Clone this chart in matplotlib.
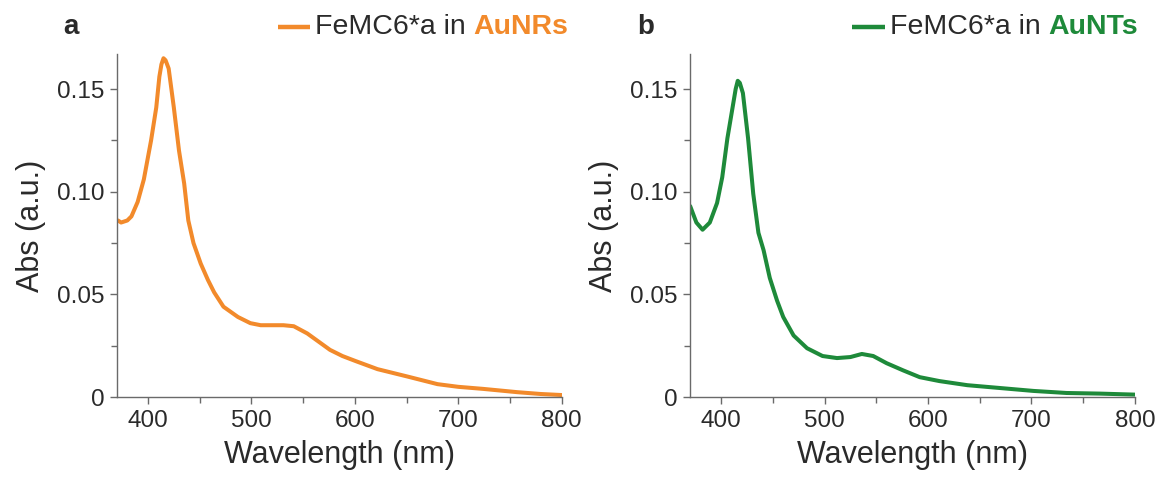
import matplotlib
matplotlib.use('Agg')
import matplotlib.pyplot as plt
from matplotlib.ticker import MultipleLocator

plt.rcParams['font.family'] = ['Liberation Sans', 'DejaVu Sans']

# 数据：吸收光谱
wl_a = [371, 374, 380, 384, 390, 396, 403, 408, 411, 413, 415, 417, 420, 425, 430,
        435, 439, 444, 451, 458, 464, 473, 487, 499, 509, 520, 531, 541, 554, 565,
        576, 588, 601, 622, 651, 680, 700, 724, 757, 780, 800]
abs_a = [0.086, 0.085, 0.086, 0.088, 0.095, 0.106, 0.125, 0.141, 0.156, 0.162, 0.165,
         0.164, 0.160, 0.141, 0.120, 0.104, 0.086, 0.075, 0.065, 0.057, 0.051, 0.044,
         0.039, 0.036, 0.035, 0.035, 0.035, 0.0345, 0.031, 0.027, 0.023, 0.020, 0.0175,
         0.0136, 0.010, 0.0063, 0.0050, 0.004, 0.0024, 0.0015, 0.001]

wl_b = [370, 376, 382, 389, 396, 401, 406, 411, 414, 416, 418, 421, 426, 431, 436,
        441, 447, 454, 460, 470, 483, 498, 512, 525, 536, 547, 560, 576, 592, 611,
        638, 670, 702, 734, 766, 800]
abs_b = [0.093, 0.085, 0.0815, 0.085, 0.0945, 0.107, 0.126, 0.141, 0.150, 0.154, 0.153,
         0.148, 0.126, 0.099, 0.080, 0.0715, 0.058, 0.047, 0.039, 0.030, 0.0238, 0.020,
         0.019, 0.0195, 0.021, 0.020, 0.0165, 0.013, 0.0097, 0.0078, 0.0058, 0.0044,
         0.003, 0.002, 0.0017, 0.0012]

panel_labels = ['a', 'b']
legend_prefix = 'FeMC6*a in '
legend_names = ['AuNRs', 'AuNTs']
colors = ['#F28A2B', '#1E8A3A']

text_color = '#2a2a2a'
spine_color = '#6a6a6a'

fig = plt.figure(figsize=(11.58, 4.79), dpi=100)
ax_a = fig.add_axes([0.101, 0.171, 0.384, 0.716])
ax_b = fig.add_axes([0.596, 0.171, 0.384, 0.716])

series = [(ax_a, wl_a, abs_a), (ax_b, wl_b, abs_b)]
# 图例线段位置（轴坐标）
leg_x = [(0.362, 0.434, 0.445), (0.364, 0.438, 0.449)]

for i, (ax, wl, ab) in enumerate(series):
    ax.plot(wl, ab, color=colors[i], linewidth=2.9, solid_joinstyle='round',
            solid_capstyle='round')
    ax.set_xlim(370, 800)
    ax.set_ylim(0, 0.167)
    ax.xaxis.set_major_locator(MultipleLocator(100))
    ax.xaxis.set_minor_locator(MultipleLocator(50))
    ax.yaxis.set_minor_locator(MultipleLocator(0.025))
    ax.set_yticks([0, 0.05, 0.10, 0.15])
    ax.set_yticklabels(['0', '0.05', '0.10', '0.15'])
    for s in ['top', 'right']:
        ax.spines[s].set_visible(False)
    for s in ['left', 'bottom']:
        ax.spines[s].set_color(spine_color)
        ax.spines[s].set_linewidth(1.0)
    ax.tick_params(which='major', direction='out', length=5, width=1,
                   color=spine_color, labelsize=17.5, labelcolor=text_color, pad=4)
    ax.tick_params(which='minor', direction='out', length=4, width=1, color=spine_color)
    ax.set_xlabel('Wavelength (nm)', fontsize=22, color=text_color, labelpad=6)
    ax.set_ylabel('Abs (a.u.)', fontsize=22, color=text_color, labelpad=8)

    # 面板标签
    ax.text(-0.12, 1.08, panel_labels[i], transform=ax.transAxes, fontsize=20,
            fontweight='bold', color=text_color, ha='left', va='center')

    # 图例：线段 + 双色文字
    x0, x1, xt = leg_x[i]
    ax.plot([x0, x1], [1.079, 1.079], transform=ax.transAxes, color=colors[i],
            linewidth=3.2, clip_on=False, solid_capstyle='butt')
    t = ax.text(xt, 1.079, legend_prefix, transform=ax.transAxes, fontsize=20.5,
                color=text_color, ha='left', va='center')
    ax.annotate(legend_names[i], xy=(1, 0), xycoords=t, fontsize=20.5,
                fontweight='bold', color=colors[i], ha='left', va='bottom')

fig.savefig('out.png', dpi=100, facecolor='white')
